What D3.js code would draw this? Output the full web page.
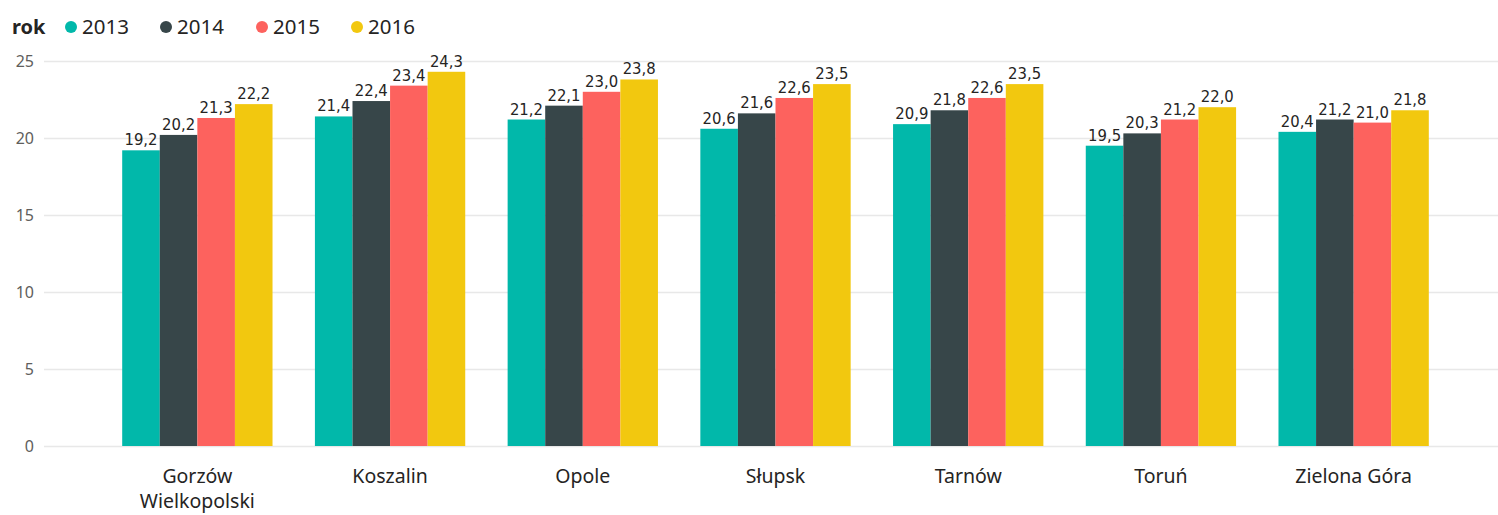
<!DOCTYPE html>
<html>
<head>
<meta charset="utf-8">
<script src="https://cdn.jsdelivr.net/npm/d3@7"></script>
<style>
  body { margin: 0; background: #fff; }
  svg { display: block; }
</style>
</head>
<body>
<div id="graf"></div>
<script>
// Datos
miasta = ['Gorzów Wielkopolski', 'Koszalin', 'Opole', 'Słupsk', 'Tarnów', 'Toruń', 'Zielona Góra']
lata = ['2013', '2014', '2015', '2016']
v2013 = [19.2, 21.4, 21.2, 20.6, 20.9, 19.5, 20.4]
v2014 = [20.2, 22.4, 22.1, 21.6, 21.8, 20.3, 21.2]
v2015 = [21.3, 23.4, 23.0, 22.6, 22.6, 21.2, 21.0]
v2016 = [22.2, 24.3, 23.8, 23.5, 23.5, 22.0, 21.8]
ticksY = [0, 5, 10, 15, 20, 25]
kolory = ['#01B8AA', '#374649', '#FD625E', '#F2C80F']

series = [v2013, v2014, v2015, v2016]
data = miasta.map((m, i) => ({ miasto: m, vals: lata.map((r, j) => ({ rok: r, v: series[j][i] })) }))

ancho_total = 1498
alto_total = 515

svg = d3.select('#graf').append('svg')
  .attr('width', ancho_total)
  .attr('height', alto_total)

// Leyenda
leg = svg.append('g').attr('font-family', '"Noto Sans", sans-serif')
leg.append('text').attr('x', 12).attr('y', 34).attr('font-size', '20px')
  .attr('font-weight', 'bold').attr('fill', '#252423').text('rok')
legX = [71, 166, 262, 357]
lata.forEach((r, j) => {
  leg.append('circle').attr('cx', legX[j]).attr('cy', 27).attr('r', 6).attr('fill', kolory[j])
  leg.append('text').attr('x', legX[j] + 11).attr('y', 34).attr('font-size', '20.5px')
    .attr('fill', '#252423').text(r)
})

// Escalas
y = d3.scaleLinear().domain([0, 25]).range([446, 61])
x = d3.scaleBand().domain(miasta).range([101, 1450]).paddingInner(0.22).paddingOuter(0.11)
xs = d3.scaleBand().domain(lata).range([0, x.bandwidth()])

// Grid
yAxis = d3.axisLeft(y).tickValues(ticksY).tickSize(-(ancho_total - 44)).tickPadding(10)
gy = svg.append('g').attr('transform', 'translate(44,0)').call(yAxis)
gy.select('.domain').remove()
gy.selectAll('.tick line').attr('stroke', '#e8e8e8').attr('stroke-width', 1.5)
gy.selectAll('.tick text').attr('font-family', '"Noto Sans", sans-serif')
  .attr('font-size', '16px').attr('fill', '#605e5c').attr('dy', '0.33em')

// Barras
grupos = svg.append('g').selectAll('g').data(data).enter().append('g')
  .attr('transform', d => `translate(${x(d.miasto)},0)`)

grupos.selectAll('rect').data(d => d.vals).enter().append('rect')
  .attr('x', d => xs(d.rok))
  .attr('y', d => y(d.v))
  .attr('width', xs.bandwidth())
  .attr('height', d => y(0) - y(d.v))
  .attr('fill', (d, j) => kolory[j])

grupos.selectAll('text').data(d => d.vals).enter().append('text')
  .attr('x', d => xs(d.rok) + xs.bandwidth() / 2)
  .attr('y', d => y(d.v) - 5)
  .attr('text-anchor', 'middle')
  .attr('font-family', '"DejaVu Sans Condensed", sans-serif')
  .attr('font-size', '16.5px')
  .attr('fill', '#252423')
  .text(d => d3.format('.1f')(d.v).replace('.', ','))

// Eje X
xl = svg.append('g').attr('font-family', '"Noto Sans", sans-serif')
  .attr('font-size', '19.5px').attr('fill', '#252423')
xl.selectAll('text').data(miasta).enter().append('text')
  .attr('x', d => x(d) + x.bandwidth() / 2)
  .attr('y', 483)
  .attr('text-anchor', 'middle')
  .each(function(d) {
    const partes = d === 'Gorzów Wielkopolski' ? ['Gorzów', 'Wielkopolski'] : [d]
    partes.forEach((p, k) => {
      d3.select(this).append('tspan').attr('x', x(d) + x.bandwidth() / 2)
        .attr('dy', k === 0 ? 0 : 25).text(p)
    })
  })
</script>
</body>
</html>
